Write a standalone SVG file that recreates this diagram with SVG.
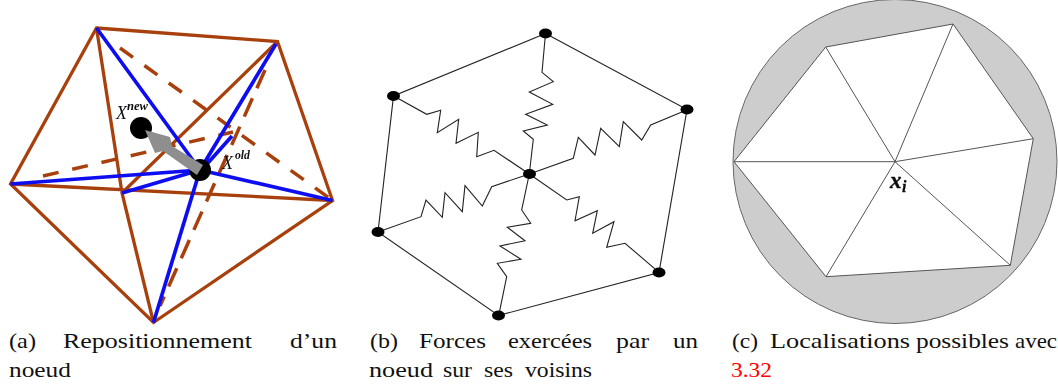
<svg xmlns="http://www.w3.org/2000/svg" width="1058" height="385" viewBox="0 0 1058 385">
<defs>
<filter id="b1" x="-5%" y="-5%" width="110%" height="110%"><feGaussianBlur stdDeviation="0.5"/></filter>
<filter id="b2" x="-5%" y="-5%" width="110%" height="110%"><feGaussianBlur stdDeviation="0.3"/></filter>
</defs>
<style>
.br{stroke:#a8400c;stroke-width:3.3;fill:none}
.da{stroke:#a8400c;stroke-width:3.5;fill:none;stroke-dasharray:16 14}
.bl{stroke:#0c0cf0;stroke-width:3.7;fill:none}
.sp{stroke:#222;stroke-width:1.1;fill:none}
.tr{stroke:#555;stroke-width:1;fill:none}
.t{font-family:"Liberation Serif",serif;font-size:21px;fill:#111}
.x{font-family:"Liberation Serif",serif;font-style:italic;fill:#111}
</style>
<rect width="1058" height="385" fill="#fff"/>

<g id="panel-a" filter="url(#b1)">
<g id="connectors-a">
<path class="da" d="M120 48L332 200"/>
<path class="da" d="M43 176L233 132"/>
<path class="da" d="M265 70L160 306" style="stroke-dasharray:20 11"/>
<path class="br" d="M96.500 28L277.500 41.500L332.500 200.500L153.500 322.500L10.500 184L96.500 28Z"/>
<path class="br" d="M10.500 184L332.500 200.500M96.500 28L122 193L153.500 322.500M122 193L277.500 41.500"/>
<path class="bl" d="M200 170L96.500 28M200 170L276 44M207 164L232 136M200 170L10.500 184M200 170L122 193M200 170L332.500 200.500M200 170L153.500 322.500"/>
</g>
<g id="node-old"><circle cx="200" cy="170" r="11" fill="#000"/></g>
<g id="node-new"><circle cx="141" cy="128" r="11" fill="#000"/></g>
<polygon id="move-arrow" points="145,130 170,137 172,146 203,165 197,175 163,151 155,153" fill="#8e8e8e"/>
<text class="x" x="116" y="119" font-size="18">X</text>
<text class="x" x="127" y="110" font-size="12" font-weight="bold" textLength="21" lengthAdjust="spacingAndGlyphs">new</text>
<text class="x" x="222" y="169" font-size="18">X</text>
<text class="x" x="235" y="159" font-size="12" font-weight="bold" textLength="15" lengthAdjust="spacingAndGlyphs">old</text>
</g>

<g id="panel-b" filter="url(#b2)">
<g id="connectors-b">
<path class="sp" d="M545.500 33.500L687 109.500L659 272.500L498.500 315.500L378 232L393.500 96L545.500 33.500"/>
<polyline class="sp" points="545.500,33.700 542,72.300 553.300,81.700 529.300,92 552.700,104.300 525.700,114.300 547.300,125 523.300,131 533.300,139.300 529.300,174"/>
<polyline class="sp" points="393.700,96 426.700,114.300 440.700,110.300 437.300,132.700 458.700,119.300 456,143.300 478.300,132.300 476.700,156.700 494,150.300 529.300,174"/>
<polyline class="sp" points="687.300,109.700 650.700,125 641.700,140 623.300,121.700 619.300,146.700 600.700,128.300 595,155 578.300,137.300 573.300,158.300 529.300,174"/>
<polyline class="sp" points="378,232 421,216.700 426,200 442.300,217.300 445,192.700 462.300,211.700 465,185.700 482.300,206 491.700,186.700 529.300,174"/>
<polyline class="sp" points="498.700,315.700 506.700,276.700 497.300,263.300 521,259.300 500,246 525,240.700 507.300,227.300 530.700,223.300 521.700,210 529.300,174"/>
<polyline class="sp" points="659,272.300 625,243.300 606.700,247.300 614,221.700 592.700,233.300 597.300,210.700 575,220.700 579.300,196.700 566.700,200 529.300,174"/>
</g>
<g id="node-c"><ellipse cx="529.500" cy="174" rx="6.500" ry="5" fill="#000"/></g>
<g id="node-1"><ellipse cx="545.500" cy="33.500" rx="6.500" ry="5" fill="#000"/></g>
<g id="node-2"><ellipse cx="687" cy="109.500" rx="6.500" ry="5" fill="#000"/></g>
<g id="node-3"><ellipse cx="659" cy="272.500" rx="6.500" ry="5" fill="#000"/></g>
<g id="node-4"><ellipse cx="498.500" cy="315.500" rx="6.500" ry="5" fill="#000"/></g>
<g id="node-5"><ellipse cx="378" cy="232" rx="6.500" ry="5" fill="#000"/></g>
<g id="node-6"><ellipse cx="393.500" cy="96" rx="6.500" ry="5" fill="#000"/></g>
</g>

<g id="panel-c" filter="url(#b2)">
<circle cx="895" cy="161.500" r="162" fill="#cdcdcd" stroke="#666" stroke-width="1"/>
<polygon points="734,161.700 825.700,47 953,24 1033.300,138.700 1010.300,265.300 826,276.700" fill="#fff" stroke="#555" stroke-width="1"/>
<path class="tr" d="M895 161.700L734 161.700M895 161.700L825.700 47M895 161.700L953 24M895 161.700L1033.300 138.700M895 161.700L1010.300 265.300M895 161.700L826 276.700"/>
<text x="890" y="188" font-family="'Liberation Serif',serif" font-style="italic" font-weight="bold" font-size="23" fill="#111" stroke="#111" stroke-width="0.4">x</text>
<text x="902" y="192" font-family="'Liberation Serif',serif" font-style="italic" font-weight="bold" font-size="16" fill="#111" stroke="#111" stroke-width="0.3">i</text>
</g>

<g id="captions">
<text class="t" x="9" y="348" textLength="27" lengthAdjust="spacingAndGlyphs">(a)</text>
<text class="t" x="63" y="348" textLength="189" lengthAdjust="spacingAndGlyphs">Repositionnement</text>
<text class="t" x="290" y="348" textLength="47" lengthAdjust="spacingAndGlyphs">d’un</text>
<text class="t" x="9" y="377" textLength="62" lengthAdjust="spacingAndGlyphs">noeud</text>
<text class="t" x="370" y="348" textLength="28" lengthAdjust="spacingAndGlyphs">(b)</text>
<text class="t" x="419" y="348" textLength="67" lengthAdjust="spacingAndGlyphs">Forces</text>
<text class="t" x="508" y="348" textLength="84" lengthAdjust="spacingAndGlyphs">exercées</text>
<text class="t" x="616" y="348" textLength="33" lengthAdjust="spacingAndGlyphs">par</text>
<text class="t" x="673" y="348" textLength="25" lengthAdjust="spacingAndGlyphs">un</text>
<text class="t" x="369" y="377" textLength="64" lengthAdjust="spacingAndGlyphs">noeud</text>
<text class="t" x="443" y="377" textLength="29" lengthAdjust="spacingAndGlyphs">sur</text>
<text class="t" x="484" y="377" textLength="29" lengthAdjust="spacingAndGlyphs">ses</text>
<text class="t" x="525" y="377" textLength="67" lengthAdjust="spacingAndGlyphs">voisins</text>
<text class="t" x="732" y="348" textLength="26" lengthAdjust="spacingAndGlyphs">(c)</text>
<text class="t" x="770" y="348" textLength="140" lengthAdjust="spacingAndGlyphs">Localisations</text>
<text class="t" x="916" y="348" textLength="93" lengthAdjust="spacingAndGlyphs">possibles</text>
<text class="t" x="1015" y="348" textLength="42" lengthAdjust="spacingAndGlyphs">avec</text>
<text class="t" x="731" y="377" textLength="41" lengthAdjust="spacingAndGlyphs" style="fill:#f00">3.32</text>
</g>
</svg>
